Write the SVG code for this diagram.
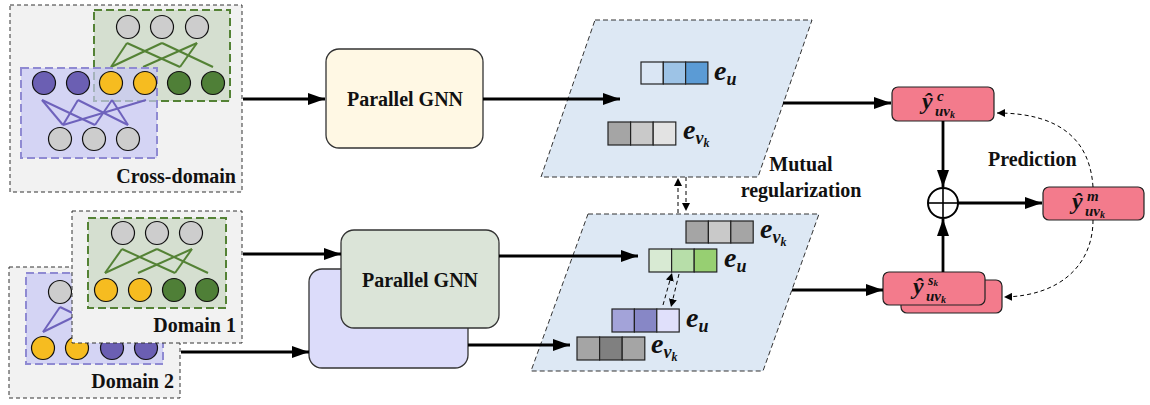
<svg xmlns="http://www.w3.org/2000/svg" width="1150" height="405" viewBox="0 0 1150 405">
<style>
.dom{fill:#f2f2f2;stroke:#333;stroke-width:1;stroke-dasharray:4,3}
.gr{fill:#d5dfd0;stroke:#548235;stroke-width:2;stroke-dasharray:8,4}
.pr{fill:#c8c8f5;fill-opacity:0.7;stroke:#8f8ad2;stroke-width:2;stroke-dasharray:8,4}
.gl{stroke:#548235;stroke-width:2;fill:none}
.pl{stroke:#6e62bc;stroke-width:2;fill:none}
.n{stroke:#111;stroke-width:1.2}
.ng{fill:#cdcdcd}.np{fill:#6b5fb3}.ny{fill:#f6bc20}.nd{fill:#4f7f37}
.lbl{font-family:'Liberation Serif','DejaVu Serif',serif;font-weight:bold;font-size:20px;fill:#111}
.m{font-family:'Liberation Serif','DejaVu Serif',serif;font-weight:bold;font-style:italic;fill:#111}
.ar{stroke:#000;stroke-width:2.8;fill:none}
.da{stroke:#000;stroke-width:1;stroke-dasharray:4,3;fill:none}
.plane{fill:#dde8f4;stroke:#333;stroke-width:1;stroke-dasharray:5,3}
.cell{stroke:#222;stroke-width:1.2}
.pb{fill:#f37b8c;stroke:#222;stroke-width:1.2}
.gnn{stroke:#333;stroke-width:1.3}
</style>
<defs>
<marker id="ah" markerUnits="userSpaceOnUse" markerWidth="17" markerHeight="12" refX="17" refY="6" orient="auto"><path d="M0,0 L17,6 L0,12 z" fill="#000"/></marker>
<marker id="sa" markerUnits="userSpaceOnUse" markerWidth="8" markerHeight="8" refX="8" refY="4" orient="auto"><path d="M0,0 L8,4 L0,8 z" fill="#000"/></marker>
</defs>

<g id="cross-domain">
<rect class="dom" x="10" y="5" width="232" height="187"/>
<rect class="gr" x="94" y="10" width="136" height="91"/>
<g class="gl">
<line x1="127" y1="43" x2="111" y2="67"/><line x1="127" y1="43" x2="180" y2="67"/>
<line x1="162" y1="43" x2="111" y2="67"/><line x1="162" y1="43" x2="213" y2="67"/>
<line x1="197" y1="43" x2="143" y2="67"/><line x1="197" y1="43" x2="180" y2="67"/>
</g>
<circle class="n ng" cx="128" cy="27" r="11.5"/><circle class="n ng" cx="162" cy="27" r="11.5"/><circle class="n ng" cx="197" cy="27" r="11.5"/>
<rect class="pr" x="21" y="68" width="136" height="90"/>
<g class="pl">
<line x1="42" y1="100" x2="63" y2="125"/><line x1="42" y1="100" x2="95" y2="125"/>
<line x1="78" y1="100" x2="63" y2="125"/><line x1="78" y1="100" x2="128" y2="125"/>
<line x1="112" y1="100" x2="95" y2="125"/><line x1="112" y1="100" x2="128" y2="125"/>
<line x1="146" y1="100" x2="63" y2="125"/>
</g>
<circle class="n np" cx="44" cy="83" r="11.5"/><circle class="n np" cx="78" cy="83" r="11.5"/>
<circle class="n ny" cx="111" cy="83" r="11.5"/><circle class="n ny" cx="145" cy="83" r="11.5"/>
<circle class="n nd" cx="179" cy="83" r="11.5"/><circle class="n nd" cx="213" cy="83" r="11.5"/>
<circle class="n ng" cx="60" cy="139" r="11.5"/><circle class="n ng" cx="94" cy="139" r="11.5"/><circle class="n ng" cx="128" cy="139" r="11.5"/>
<text class="lbl" x="236" y="183" text-anchor="end">Cross-domain</text>
</g>

<g id="domain2">
<rect class="dom" x="9" y="267" width="171" height="131"/>
<rect class="pr" x="26" y="273" width="137" height="91"/>
<g class="pl">
<line x1="60" y1="307" x2="43" y2="332"/><line x1="60" y1="307" x2="112" y2="332"/>
<line x1="94" y1="307" x2="43" y2="332"/><line x1="94" y1="307" x2="146" y2="332"/>
<line x1="128" y1="307" x2="77" y2="332"/><line x1="128" y1="307" x2="112" y2="332"/>
</g>
<circle class="n ng" cx="60" cy="292" r="11.5"/><circle class="n ng" cx="94" cy="292" r="11.5"/><circle class="n ng" cx="128" cy="292" r="11.5"/>
<circle class="n ny" cx="43" cy="348" r="11.5"/><circle class="n ny" cx="77" cy="348" r="11.5"/>
<circle class="n np" cx="112" cy="348" r="11.5"/><circle class="n np" cx="146" cy="348" r="11.5"/>
<text class="lbl" x="174" y="388" text-anchor="end">Domain 2</text>
</g>

<g id="domain1">
<rect class="dom" x="72" y="211" width="170" height="132"/>
<rect class="gr" x="88" y="218" width="138" height="90"/>
<g class="gl">
<line x1="122" y1="249" x2="105" y2="273"/><line x1="122" y1="249" x2="175" y2="273"/>
<line x1="157" y1="249" x2="105" y2="273"/><line x1="157" y1="249" x2="208" y2="273"/>
<line x1="192" y1="249" x2="138" y2="273"/><line x1="192" y1="249" x2="175" y2="273"/>
</g>
<circle class="n ng" cx="123" cy="233" r="11.5"/><circle class="n ng" cx="157" cy="233" r="11.5"/><circle class="n ng" cx="191" cy="233" r="11.5"/>
<circle class="n ny" cx="106" cy="290" r="11.5"/><circle class="n ny" cx="140" cy="290" r="11.5"/>
<circle class="n nd" cx="174" cy="290" r="11.5"/><circle class="n nd" cx="207" cy="290" r="11.5"/>
<text class="lbl" x="236" y="332" text-anchor="end">Domain 1</text>
</g>

<g id="gnn-cross">
<rect class="gnn" x="326" y="49" width="157" height="99" rx="13" fill="#fff8e4"/>
<text class="lbl" x="405" y="106" text-anchor="middle">Parallel GNN</text>
</g>
<g id="gnn-domain">
<rect class="gnn" x="309" y="269" width="159" height="99" rx="13" fill="#dcdcfa"/>
<rect class="gnn" x="341" y="230" width="158" height="98" rx="13" fill="#dbe4d8"/>
<text class="lbl" x="420" y="287" text-anchor="middle">Parallel GNN</text>
</g>

<g id="plane-cross">
<polygon class="plane" points="595,20 812,20 758,177 541,177"/>
<rect class="cell" x="641" y="62" width="22.3" height="22" fill="#dae6f4"/>
<rect class="cell" x="663.3" y="62" width="22.3" height="22" fill="#9dc3e6"/>
<rect class="cell" x="685.6" y="62" width="22.3" height="22" fill="#5b9bd5"/>
<text class="m" x="714" y="80" font-size="28">e<tspan font-size="18" dy="5">u</tspan></text>
<rect class="cell" x="608" y="122" width="22.6" height="23" fill="#a5a5a5"/>
<rect class="cell" x="630.6" y="122" width="22.6" height="23" fill="#c9c9c9"/>
<rect class="cell" x="653.2" y="122" width="22.6" height="23" fill="#e3e3e3"/>
<text class="m" x="683" y="139" font-size="28">e<tspan font-size="18" dy="5">v</tspan><tspan font-size="12" dy="3">k</tspan></text>
</g>

<g id="plane-domain">
<polygon class="plane" points="588,214 819,214 763,371 531,371"/>
<rect class="cell" x="686" y="221" width="22.4" height="22" fill="#a5a5a5"/>
<rect class="cell" x="708.4" y="221" width="22.4" height="22" fill="#c9c9c9"/>
<rect class="cell" x="730.8" y="221" width="22.4" height="22" fill="#a5a5a5"/>
<text class="m" x="760" y="238" font-size="28">e<tspan font-size="18" dy="5">v</tspan><tspan font-size="12" dy="3">k</tspan></text>
<rect class="cell" x="649" y="249" width="22.6" height="23" fill="#d8ead3"/>
<rect class="cell" x="671.6" y="249" width="22.6" height="23" fill="#b7dea9"/>
<rect class="cell" x="694.2" y="249" width="22.6" height="23" fill="#97cf72"/>
<text class="m" x="724" y="267" font-size="28">e<tspan font-size="18" dy="5">u</tspan></text>
<rect class="cell" x="612" y="309" width="22.4" height="23" fill="#a3a3d9"/>
<rect class="cell" x="634.4" y="309" width="22.4" height="23" fill="#8787c6"/>
<rect class="cell" x="656.8" y="309" width="22.4" height="23" fill="#e0e0fb"/>
<text class="m" x="686" y="327" font-size="28">e<tspan font-size="18" dy="5">u</tspan></text>
<rect class="cell" x="577" y="337" width="22.6" height="23" fill="#a5a5a5"/>
<rect class="cell" x="599.6" y="337" width="22.6" height="23" fill="#808080"/>
<rect class="cell" x="622.2" y="337" width="22.6" height="23" fill="#a5a5a5"/>
<text class="m" x="651" y="353" font-size="28">e<tspan font-size="18" dy="5">v</tspan><tspan font-size="12" dy="3">k</tspan></text>
</g>

<g id="mutual-label">
<text class="lbl" x="801" y="171" text-anchor="middle">Mutual</text>
<text class="lbl" x="801" y="197" text-anchor="middle">regularization</text>
</g>

<g id="pred-c">
<rect class="pb" x="892" y="87" width="102" height="34" rx="6"/>
<text class="m" font-size="24"><tspan x="922" y="109">ŷ</tspan><tspan x="937" y="101" font-size="15">c</tspan><tspan x="935" y="116" font-size="15">uv</tspan><tspan font-size="10" dy="2">k</tspan></text>
</g>
<g id="plus">
<circle cx="943" cy="203" r="15" fill="#fff" stroke="#000" stroke-width="2"/>
<line x1="928" y1="203" x2="958" y2="203" stroke="#000" stroke-width="1.6"/>
<line x1="943" y1="188" x2="943" y2="218" stroke="#000" stroke-width="1.6"/>
</g>
<g id="pred-m">
<rect class="pb" x="1043" y="187" width="101" height="33" rx="6"/>
<text class="m" font-size="24"><tspan x="1072" y="209">ŷ</tspan><tspan x="1087" y="201" font-size="15">m</tspan><tspan x="1085" y="216" font-size="15">uv</tspan><tspan font-size="10" dy="2">k</tspan></text>
</g>
<g id="pred-s">
<rect class="pb" x="901" y="280" width="101" height="33" rx="6"/>
<rect class="pb" x="883" y="272" width="102" height="33" rx="6"/>
<text class="m" font-size="24"><tspan x="913" y="294">ŷ</tspan><tspan x="928" y="285" font-size="14">s</tspan><tspan font-size="9" dy="1">k</tspan></text>
<text class="m" font-size="15"><tspan x="926" y="301">uv</tspan><tspan font-size="10" dy="2">k</tspan></text>
</g>
<g id="prediction-label">
<text class="lbl" x="988" y="166">Prediction</text>
</g>

<g id="connectors">
<line class="ar" x1="243" y1="99" x2="325" y2="99" marker-end="url(#ah)"/>
<line class="ar" x1="483" y1="99" x2="620" y2="99" marker-end="url(#ah)"/>
<line class="ar" x1="783" y1="103" x2="891" y2="103" marker-end="url(#ah)"/>
<line class="ar" x1="243" y1="254" x2="341" y2="254" marker-end="url(#ah)"/>
<line class="ar" x1="499" y1="256" x2="638" y2="256" marker-end="url(#ah)"/>
<line class="ar" x1="181" y1="352" x2="309" y2="352" marker-end="url(#ah)"/>
<line class="ar" x1="468" y1="345" x2="570" y2="345" marker-end="url(#ah)"/>
<line class="ar" x1="792" y1="290" x2="883" y2="290" marker-end="url(#ah)"/>
<line class="ar" x1="943" y1="121" x2="943" y2="187" marker-end="url(#ah)"/>
<line class="ar" x1="943" y1="272" x2="943" y2="219" marker-end="url(#ah)"/>
<line class="ar" x1="958" y1="203" x2="1042" y2="203" marker-end="url(#ah)"/>
<line class="da" x1="678" y1="213" x2="678" y2="178" marker-end="url(#sa)"/>
<line class="da" x1="686" y1="177" x2="686" y2="211" marker-end="url(#sa)"/>
<line class="da" x1="663" y1="305" x2="672" y2="273" marker-end="url(#sa)"/>
<line class="da" x1="679" y1="274" x2="671" y2="307" marker-end="url(#sa)"/>
<path class="da" d="M1093,187 C1090,140 1060,113 997,113" marker-end="url(#sa)"/>
<path class="da" d="M1093,220 C1093,265 1060,296 1004,297" marker-end="url(#sa)"/>
</g>
</svg>
